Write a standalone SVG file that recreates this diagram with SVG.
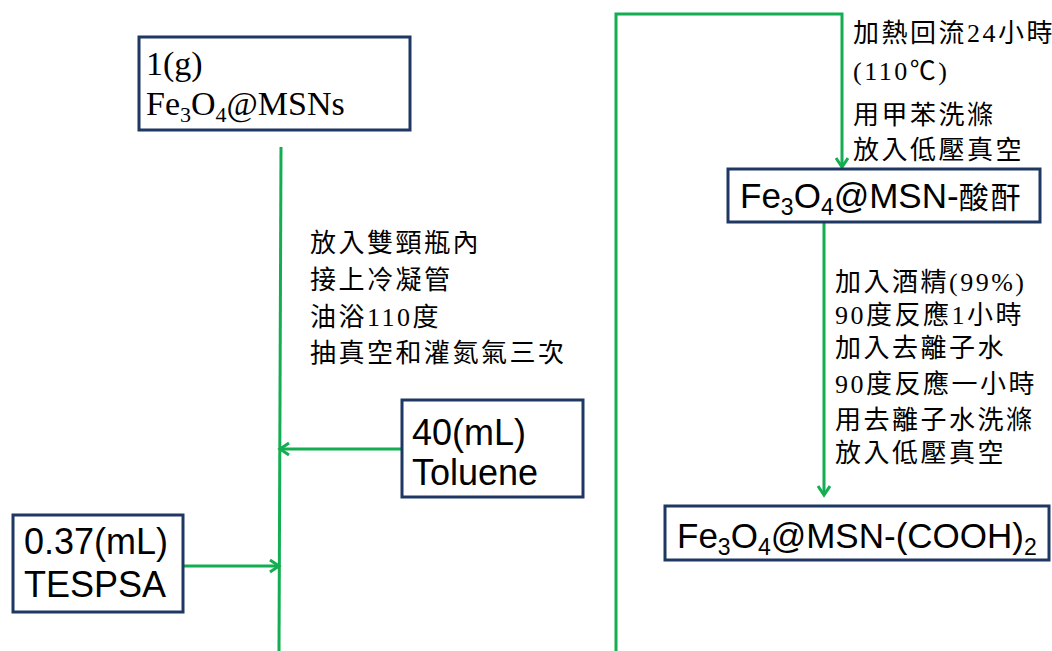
<svg xmlns="http://www.w3.org/2000/svg" width="1052" height="651" viewBox="0 0 1052 651">
<style>
.box{fill:#fff;stroke:#1f3763;stroke-width:3}
.ln{fill:none;stroke:#13ae52;stroke-width:3}
.serif{font-family:"Liberation Serif","Times New Roman",serif;fill:#000}
.sans{font-family:"Liberation Sans",Arial,sans-serif;fill:#000}
.cjk{font-family:"Liberation Serif","Noto Sans CJK TC",serif;font-size:26px;letter-spacing:2.5px;fill:#000}
.cjk2{font-family:"Noto Sans CJK TC",sans-serif;fill:#000}
</style>
<defs>
<marker id="arr" markerUnits="userSpaceOnUse" markerWidth="14" markerHeight="16" refX="11" refY="7" orient="auto">
<polyline points="2,1 11,7 2,13" fill="none" stroke="#13ae52" stroke-width="3"/>
</marker>
</defs>
<rect width="1052" height="651" fill="#fff"/>
<g id="connectors">
<line class="ln" x1="281" y1="147" x2="279" y2="651"/>
<line class="ln" x1="402" y1="449" x2="280" y2="449" marker-end="url(#arr)"/>
<line class="ln" x1="183" y1="566" x2="279" y2="566" marker-end="url(#arr)"/>
<polyline class="ln" points="616,651 616,14 842,14 842,167" marker-end="url(#arr)"/>
<line class="ln" x1="824" y1="222" x2="824" y2="495" marker-end="url(#arr)"/>
</g>
<g id="node-start">
<rect class="box" x="139" y="37" width="271" height="93"/>
<text class="serif" font-size="34" x="146" y="75">1(g)</text>
<text class="serif" font-size="34" x="146" y="115">Fe<tspan font-size="22" dy="7">3</tspan><tspan dy="-7">O</tspan><tspan font-size="22" dy="7">4</tspan><tspan dy="-7">@MSNs</tspan></text>
</g>
<g id="note-left">
<text class="cjk" x="310" y="252">放入雙頸瓶內</text>
<text class="cjk" x="310" y="289">接上冷凝管</text>
<text class="cjk" x="310" y="326">油浴110度</text>
<text class="cjk" x="310" y="362">抽真空和灌氮氣三次</text>
</g>
<g id="node-toluene">
<rect class="box" x="402" y="400" width="181" height="97"/>
<text class="sans" font-size="36" x="412" y="445">40(mL)</text>
<text class="sans" font-size="36" x="412" y="485">Toluene</text>
</g>
<g id="node-tespsa">
<rect class="box" x="13" y="515" width="170" height="97"/>
<text class="sans" font-size="36" x="24" y="554">0.37(mL)</text>
<text class="sans" font-size="36" x="24" y="597">TESPSA</text>
</g>
<g id="note-right-top">
<text class="cjk" x="853" y="42">加熱回流24小時</text>
<text class="cjk" x="853" y="80">(110℃)</text>
<text class="cjk" x="853" y="124">用甲苯洗滌</text>
<text class="cjk" x="853" y="159">放入低壓真空</text>
</g>
<g id="node-anhydride">
<rect class="box" x="728" y="169" width="312" height="53"/>
<text class="sans" font-size="35" x="740" y="208">Fe<tspan font-size="23" dy="7">3</tspan><tspan dy="-7">O</tspan><tspan font-size="23" dy="7">4</tspan><tspan dy="-7">@MSN-</tspan><tspan class="cjk2" font-size="30" letter-spacing="2">酸酐</tspan></text>
</g>
<g id="note-right-mid">
<text class="cjk" x="835" y="291">加入酒精(99%)</text>
<text class="cjk" x="835" y="324">90度反應1小時</text>
<text class="cjk" x="835" y="357">加入去離子水</text>
<text class="cjk" x="835" y="393">90度反應一小時</text>
<text class="cjk" x="835" y="429">用去離子水洗滌</text>
<text class="cjk" x="835" y="462">放入低壓真空</text>
</g>
<g id="node-cooh">
<rect class="box" x="665" y="506" width="384" height="54"/>
<text class="sans" font-size="35" x="677" y="548">Fe<tspan font-size="23" dy="7">3</tspan><tspan dy="-7">O</tspan><tspan font-size="23" dy="7">4</tspan><tspan dy="-7">@MSN-(COOH)</tspan><tspan font-size="23" dy="7">2</tspan></text>
</g>
</svg>
